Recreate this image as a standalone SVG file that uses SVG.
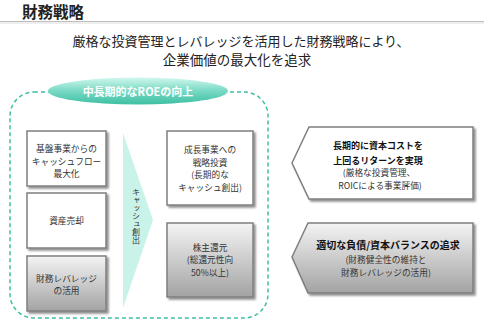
<svg xmlns="http://www.w3.org/2000/svg" width="484" height="333" viewBox="0 0 484 333">
<defs>
<linearGradient id="gGray" x1="0" y1="0" x2="0" y2="1">
<stop offset="0" stop-color="#f4f4f4"/>
<stop offset="1" stop-color="#a3a3a3"/>
</linearGradient>
<linearGradient id="gTeal" x1="0" y1="0" x2="0" y2="1">
<stop offset="0" stop-color="#d2f7ef"/>
<stop offset="0.45" stop-color="#7fdcc7"/>
<stop offset="1" stop-color="#3dbfa3"/>
</linearGradient>
<filter id="sh" x="-10%" y="-10%" width="130%" height="130%">
<feGaussianBlur in="SourceAlpha" stdDeviation="1.2"/>
<feOffset dx="1.5" dy="1.5" result="b"/>
<feComponentTransfer><feFuncA type="linear" slope="0.45"/></feComponentTransfer>
<feMerge><feMergeNode/><feMergeNode in="SourceGraphic"/></feMerge>
</filter>
</defs>
<style>
text{font-family:"Noto Sans CJK JP","Liberation Sans",sans-serif;fill:#333;}
.t{font-size:8.7px;text-anchor:middle;}
.b{font-weight:bold;fill:#111;}
.box{stroke:#7f7f7f;stroke-width:1.5;filter:url(#sh);}
</style>
<g id="header">
<text x="22" y="18" style="font-size:15.5px;font-weight:bold;fill:#222">財務戦略</text>
<line x1="0" y1="21.5" x2="484" y2="21.5" stroke="#bfbfbf" stroke-width="1.2"/>
<line x1="0" y1="23" x2="484" y2="23" stroke="#e8e8e8" stroke-width="1.5"/>
<text x="241" y="46" style="font-size:13px;text-anchor:middle;fill:#222">厳格な投資管理とレバレッジを活用した財務戦略により、</text>
<text x="237" y="65" style="font-size:13.5px;text-anchor:middle;fill:#222">企業価値の最大化を追求</text>
</g>
<g id="roe-frame">
<rect x="10" y="92" width="258" height="226" rx="24" fill="none" stroke="#40bfa3" stroke-width="1.5" stroke-dasharray="4,3"/>
<ellipse cx="138" cy="91" rx="90" ry="13.5" fill="url(#gTeal)"/>
<text x="138" y="96" style="font-size:11px;font-weight:bold;fill:#fff;text-anchor:middle">中長期的なROEの向上</text>
</g>
<g id="cash-arrow">
<polygon points="123,133 153,220 123,308" fill="#c9f3e9"/>
<text x="136" y="188" style="font-size:8px;writing-mode:vertical-rl;fill:#333">キャッシュ創出</text>
</g>
<g id="box-cf">
<rect class="box" x="27" y="131" width="79" height="55" fill="#fff"/>
<text class="t" x="66.5" y="152"><tspan x="66.5">基盤事業からの</tspan><tspan x="66.5" dy="12.7">キャッシュフロー</tspan><tspan x="66.5" dy="12.7">最大化</tspan></text>
</g>
<g id="box-asset">
<rect class="box" x="27" y="193" width="79" height="55" fill="#fff"/>
<text class="t" x="66.5" y="224">資産売却</text>
</g>
<g id="box-leverage">
<rect class="box" x="27" y="256" width="79" height="55" fill="url(#gGray)"/>
<text class="t" x="66.5" y="281.5"><tspan x="66.5">財務レバレッジ</tspan><tspan x="66.5" dy="12.7">の活用</tspan></text>
</g>
<g id="box-invest">
<rect class="box" x="167" y="131" width="86" height="74" fill="#fff"/>
<text class="t" x="210" y="153"><tspan x="210">成長事業への</tspan><tspan x="210" dy="12.7">戦略投資</tspan><tspan x="210" dy="12.7">(長期的な</tspan><tspan x="210" dy="12.7">キャッシュ創出)</tspan></text>
</g>
<g id="box-return">
<rect class="box" x="167" y="223" width="86" height="74" fill="url(#gGray)"/>
<text class="t" x="210" y="250.5"><tspan x="210">株主還元</tspan><tspan x="210" dy="12.7">(総還元性向</tspan><tspan x="210" dy="12.7">50%以上)</tspan></text>
</g>
<g id="pent-cost">
<polygon class="box" points="292,163 309,127 473,127 473,199 309,199" fill="#fff"/>
<text class="t" x="378" y="149"><tspan class="b" x="378" style="font-size:9px">長期的に資本コストを</tspan><tspan class="b" x="378" dy="14.5" style="font-size:9px">上回るリターンを実現</tspan><tspan x="379" dy="12.7">(厳格な投資管理、</tspan><tspan x="380" dy="12.7">ROICによる事業評価)</tspan></text>
</g>
<g id="pent-balance">
<polygon class="box" points="292,257 308,223 473,223 473,293 308,293" fill="url(#gGray)"/>
<text class="t" x="388" y="249"><tspan class="b" x="388" style="font-size:10px">適切な負債/資本バランスの追求</tspan><tspan x="386" dy="14">(財務健全性の維持と</tspan><tspan x="386" dy="12.7">財務レバレッジの活用)</tspan></text>
</g>
</svg>
